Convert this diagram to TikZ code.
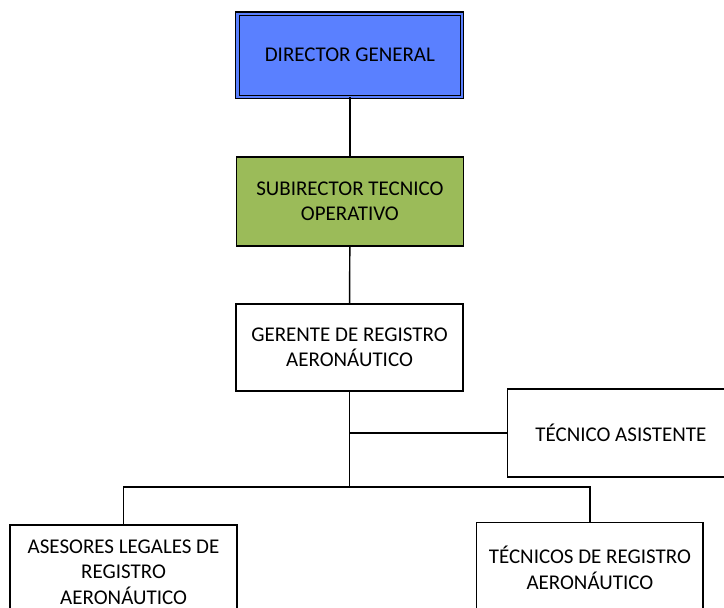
\documentclass[tikz,border=0pt]{standalone}
\usepackage{fontspec}
\setmainfont{Carlito}
\definecolor{dirblue}{RGB}{90,128,255}
\definecolor{subgreen}{RGB}{155,187,89}

\begin{document}
\begin{tikzpicture}[line width=1.1pt,
    cargo/.style={draw,rectangle,align=center,text=black,minimum width=6cm,
      font=\fontsize{15.8}{19}\selectfont}]
    \useasboundingbox (0,0) rectangle (19.16,16.09);
    \clip (0,0) rectangle (19.16,16.09);
    \node[cargo,fill=dirblue,double=dirblue,double distance=1.6pt,line width=0.8pt,
      minimum width=5.95cm,minimum height=2.2cm] (dir) at (9.26,14.63) {DIRECTOR GENERAL};
    \node[cargo,fill=subgreen,minimum height=2.35cm] (sub) at (9.26,10.76) {SUBIRECTOR TECNICO\\OPERATIVO};
    \node[cargo,minimum height=2.3cm] (ger) at (9.25,6.89) {GERENTE DE REGISTRO\\AERONÁUTICO};
    \node[cargo,minimum height=2.33cm] (tasis) at (16.43,4.63) {TÉCNICO ASISTENTE};
    \node[cargo,minimum height=2.5cm] (ase) at (3.27,0.95) {ASESORES LEGALES DE\\REGISTRO\\AERONÁUTICO};
    \node[cargo,minimum height=2.4cm] (tec) at (15.61,1.06) {TÉCNICOS DE REGISTRO\\AERONÁUTICO};
    \coordinate (bus) at (9.25,3.20);
    \draw (dir) -- (sub);
    \draw (sub) -- (ger);
    \draw (ger) -- (bus);
    \draw (tasis.west) -- (tasis.west -| ger);
    \draw (ase.north) |- (bus) -| (tec.north);
\end{tikzpicture}
\end{document}
